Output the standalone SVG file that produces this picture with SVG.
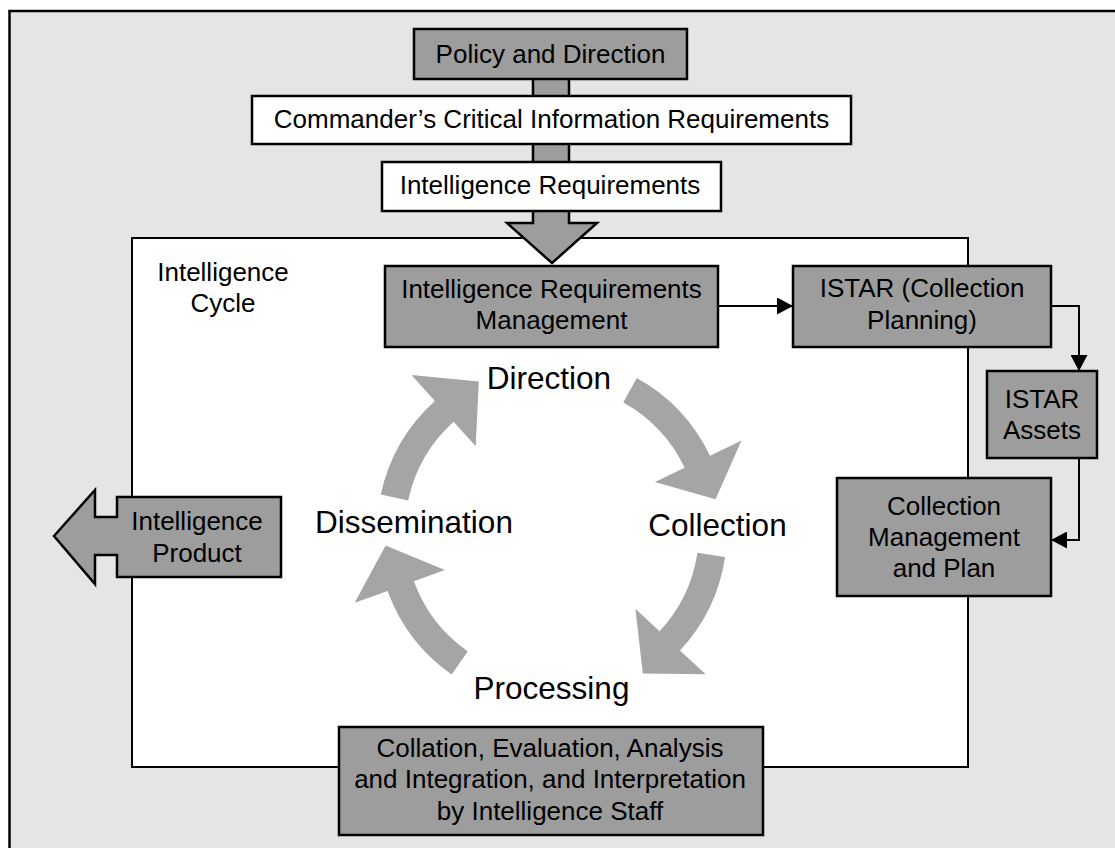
<svg xmlns="http://www.w3.org/2000/svg" width="1115" height="848" viewBox="0 0 1115 848">
<style>
.box{fill:#9d9d9d;stroke:#000;stroke-width:2.5}
.wbox{fill:#fff;stroke:#000;stroke-width:2.5}
.t{font-family:"Liberation Sans",Arial,sans-serif;font-size:26px;fill:#000;text-anchor:middle}
.big{font-size:31.5px}
.cyc{fill:#a5a5a5;stroke:none}
.conn{fill:none;stroke:#000;stroke-width:2}
</style>
<defs>
<marker id="ah" markerUnits="userSpaceOnUse" markerWidth="17" markerHeight="17" refX="16" refY="8.5" orient="auto" viewBox="0 0 17 17">
<path d="M0,0 L16,8.5 L0,17 Z" fill="#000"/>
</marker>
</defs>
<rect width="1115" height="848" fill="#fff"/>
<g id="frame">
<rect x="9.5" y="11" width="1130" height="860" fill="#e5e5e5" stroke="#000" stroke-width="2.5"/>
</g>
<g id="cycle-frame">
<rect x="132" y="238" width="836" height="529" fill="#fff" stroke="#000" stroke-width="2"/>
<text class="t" x="223" y="281">Intelligence</text>
<text class="t" x="223" y="312">Cycle</text>
</g>
<g id="big-arrow">
<polygon class="box" points="533,60 533,223 507,223 552,263 597,223 569,223 569,60"/>
</g>
<g id="policy">
<rect class="box" x="414" y="29" width="273" height="50"/>
<text class="t" x="550.5" y="63">Policy and Direction</text>
</g>
<g id="ccir">
<rect class="wbox" x="252" y="96" width="599" height="48"/>
<text class="t" x="551.5" y="128">Commander’s Critical Information Requirements</text>
</g>
<g id="ir">
<rect class="wbox" x="382" y="162" width="339" height="49"/>
<text class="t" x="550" y="194">Intelligence Requirements</text>
</g>
<g id="irm">
<rect class="box" x="385" y="266" width="333" height="81"/>
<text class="t" x="551.5" y="298">Intelligence Requirements</text>
<text class="t" x="551.5" y="329">Management</text>
</g>
<g id="istar-planning">
<rect class="box" x="793" y="266" width="258" height="81"/>
<text class="t" x="922" y="297">ISTAR (Collection</text>
<text class="t" x="922" y="329">Planning)</text>
</g>
<g id="istar-assets">
<rect class="box" x="987" y="371" width="110" height="87"/>
<text class="t" x="1042" y="408">ISTAR</text>
<text class="t" x="1042" y="439">Assets</text>
</g>
<g id="collection-mgmt">
<rect class="box" x="837" y="478" width="214" height="118"/>
<text class="t" x="944" y="515">Collection</text>
<text class="t" x="944" y="546">Management</text>
<text class="t" x="944" y="577">and Plan</text>
</g>
<g id="intel-product">
<polygon class="box" points="54,536 95,490 95,517 117,517 117,497 281,497 281,577 117,577 117,555 95,555 95,584"/>
<text class="t" x="197" y="530">Intelligence</text>
<text class="t" x="197" y="562">Product</text>
</g>
<g id="collation">
<rect class="box" x="339" y="727" width="424" height="108"/>
<text class="t" x="550" y="757">Collation, Evaluation, Analysis</text>
<text class="t" x="550" y="788">and Integration, and Interpretation</text>
<text class="t" x="550" y="820">by Intelligence Staff</text>
</g>
<g id="cycle-arrows">
<path class="cyc" d="M636.8,377.9 A175,175 0 0 1 710.0,455.7 L741.5,440.6 L715.5,499.2 L654.9,481.9 L684.7,467.7 A147,147 0 0 0 623.3,402.4 Z"/>
<path class="cyc" d="M725.1,556.9 A175,175 0 0 1 680.0,650.4 L705.6,674.2 L642.8,673.5 L635.4,608.7 L659.5,631.3 A147,147 0 0 0 697.4,552.7 Z"/>
<path class="cyc" d="M451.6,674.4 A175,175 0 0 1 387.6,590.9 L354.7,602.8 L385.6,545.6 L444.9,570.0 L413.9,581.3 A147,147 0 0 0 467.7,651.4 Z"/>
<path class="cyc" d="M380.8,494.6 A175,175 0 0 1 434.9,401.0 L411.5,374.9 L478.8,381.5 L475.7,446.3 L453.6,421.8 A147,147 0 0 0 408.2,500.4 Z"/>
</g>
<g id="cycle-labels">
<text class="t big" x="549" y="389">Direction</text>
<text class="t big" x="717.5" y="536">Collection</text>
<text class="t big" x="551.5" y="699">Processing</text>
<text class="t big" x="414" y="533">Dissemination</text>
</g>
<g id="connectors">
<path class="conn" d="M718,306 H793" marker-end="url(#ah)"/>
<path class="conn" d="M1051,306 H1079 V371" marker-end="url(#ah)"/>
<path class="conn" d="M1079,458 V540 H1051" marker-end="url(#ah)"/>
</g>
</svg>
